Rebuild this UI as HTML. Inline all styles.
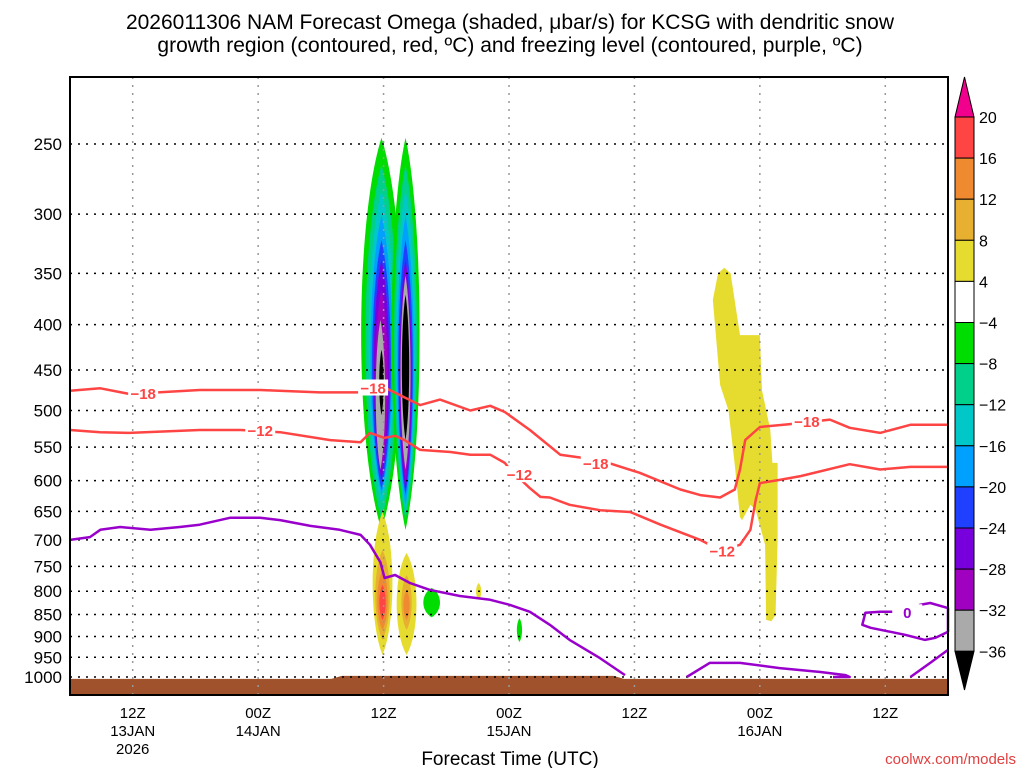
<!DOCTYPE html>
<html><head><meta charset="utf-8"><style>
body{margin:0;background:#fff;}
svg{display:block;font-family:"Liberation Sans",sans-serif;}
</style></head><body>
<svg id="c" width="1024" height="768" xmlns="http://www.w3.org/2000/svg">
<text x="510" y="29" font-size="21" text-anchor="middle">2026011306 NAM Forecast Omega (shaded, μbar/s) for KCSG with dendritic snow</text>
<text x="510" y="52" font-size="21" text-anchor="middle">growth region (contoured, red, ºC) and freezing level (contoured, purple, ºC)</text>
<g id="plot"></g>
<text x="510" y="765" font-size="19" text-anchor="middle">Forecast Time (UTC)</text>
<text x="1016" y="764" font-size="15" fill="#e04040" text-anchor="end">coolwx.com/models</text>
</svg>
<script>
const pLevels=[250,300,350,400,450,500,550,600,650,700,750,800,850,900,950,1000];
const xTickHours=[6,18,30,42,54,66,78];
const xTickLine1=["12Z","00Z","12Z","00Z","12Z","00Z","12Z"];
const xTickLine2=["13JAN","14JAN","","15JAN","","16JAN",""];
const xTickLine3=["2026","","","","","",""];
const cbLabels=["20","16","12","8","4","−4","−8","−12","−16","−20","−24","−28","−32","−36"];
const cbColors=["#ff4444","#f08a30","#e8b030","#e6dc30","#ffffff","#00dd00","#00d08a","#00c8c8","#00a0ff","#2040ff","#7800dc","#a000c0","#aaaaaa"];
// plume lenses: [hourCenter, halfWidthHours, pTop, pBottom, colorIndex]
const plumeA=[[29.8,1.95,246,682,5],[29.8,1.55,264,665,6],[29.8,1.25,282,639,7],[29.8,1.05,301,623,8],[29.8,0.9,321,614,9],[29.8,0.75,338,599,10],[29.8,0.6,365,583,11],[29.7,0.45,395,583,12],[29.8,0.22,427,506,13]];
const plumeB=[[32.1,1.35,246,682,5],[32.1,1.1,264,665,6],[32.1,0.95,282,651,7],[32.1,0.8,301,639,8],[32.1,0.7,321,623,9],[32.1,0.6,338,614,10],[32.1,0.5,352,599,11],[32.1,0.48,352,583,12],[32.1,0.35,370,540,13]];
const lowBlobs=[[29.9,0.95,651,944,3],[29.9,0.7,719,908,2],[29.9,0.5,757,885,1],[29.9,0.3,787,862,0],[32.2,0.95,724,944,3],[32.2,0.5,767,885,2],[32.2,0.3,798,862,1],[34.6,0.8,793,856,5],[39.1,0.25,783,818,3],[43.0,0.25,858,913,5]];
const yellowH=[61.5,62.0,62.6,63.2,64.1,66.0,66.2,67.0,67.2,67.7,67.7,67.5,67.1,66.6,66.5,65.6,65.1,64.3,64.1,63.6,63.0,62.2,61.5];
const yellowP=[375,350,345,350,411,411,474,526,573,573,700,851,865,862,709,648,639,665,660,576,500,468,375];
const red18H=[0,2.9,5.7,12.4,18.2,23.9,27.8,30.1,33.5,35.4,38.3,40.2,41.6,44.0,46.9,50.7,54.5,58.4,60.3,62.2,63.6,64.1,64.6,66.0,68.9,72.7,74.6,77.5,80.4,84];
const red18P=[475,472,479,474,474,477,477,471,493,486,500,494,502,526,561,569,588,614,623,627,614,583,540,522,518,512,523,530,519,519];
const red12H=[0,2.9,5.7,12.4,16.3,20.1,24.9,27.8,28.7,30.1,31.1,32,33.5,36.4,38.3,40.2,41.6,42.1,44,45,45.9,47.8,50.7,53.6,56.5,60.3,62.2,64.1,65.1,65.6,66,67.9,69.9,74.6,77.5,80.4,84];
const red12P=[526,529,530,526,526,529,540,543,530,537,534,540,554,557,561,561,573,583,612,626,627,639,648,651,673,700,719,709,682,631,604,599,593,575,583,579,579];
const purpH=[0,1.9,2.9,4.8,7.7,10.5,12.4,15.3,18.2,20.1,23,25.8,27.8,28.7,29.7,30.1,31.1,32.5,34.4,37.3,40.2,42.1,44,45.9,47.8,50.7,53.1];
const purpP=[700,695,682,677,682,677,673,661,661,665,675,682,691,709,742,773,767,783,797,810,818,829,844,873,908,952,995];
const purp2H=[59.0,61.2,64.1,67.9,71.8,74.2,74.6,73.0];
const purp2P=[1000,964,964,977,987,995,1000,1000];
const purp3H=[84,82.3,81.3,80.9,79.4,77.5,76.1,75.8,76.6,79.9,81.8,82.8,84];
const purp3P=[836,825,829,844,844,844,846,873,880,896,908,903,889];
const purp4H=[80.4,82.3,84];
const purp4P=[1000,964,932];
const labelText=["−18","−12","−18","−12","−18","−12","−18","0"];
const labelH=[7.0,18.2,29.0,43.0,50.3,62.4,70.5,80.1];
const labelP=[478,526,471,590,573,720,514,845];
const labelColor=["r","r","r","r","r","r","r","p"];
const groundH=[0,25,26,52,53,84];
const groundP=[1005,1005,997,997,1005,1005];

const L=70,R=948,T=77,B=695;
const X=h=>L+h*(R-L)/84;
const Y=p=>677-384.5*Math.log(1000/p);
const NS="http://www.w3.org/2000/svg";
const g=document.getElementById('plot');
function mk(t,a,par){const e=document.createElementNS(NS,t);for(const k in a)e.setAttribute(k,a[k]);(par||g).appendChild(e);return e;}
const allColors=cbColors.concat(["#000000"]);
let gd=`M${L},${B}`;groundH.forEach((h,i)=>gd+=`L${X(h)},${Y(groundP[i])}`);gd+=`L${R},${B}Z`;
const gr=mk('path',{d:gd,fill:'#a0522d'});


function lens(arr,name){arr.forEach(b=>{const y1=Y(b[2]),y2=Y(b[3]),cx=X(b[0]),rx=b[1]*(R-L)/84*1.33,hh=y2-y1;
 const d=`M${cx},${y1}C${cx+rx},${y1+hh*0.22} ${cx+rx},${y2-hh*0.22} ${cx},${y2}C${cx-rx},${y2-hh*0.22} ${cx-rx},${y1+hh*0.22} ${cx},${y1}Z`;
 const e=mk('path',{d:d,fill:allColors[b[4]]});
 
 });}
lens(plumeA,'omega-plume-a');lens(plumeB,'omega-plume-b');lens(lowBlobs,'omega-low-blob');
let yd='';yellowH.forEach((h,i)=>yd+=(i?'L':'M')+X(h)+','+Y(yellowP[i]));
const yp=mk('path',{d:yd+'Z',fill:'#e6dc30'});


pLevels.forEach(p=>{const l=mk('line',{x1:L,x2:R,y1:Y(p),y2:Y(p),stroke:'#000','stroke-width':1.5,'stroke-dasharray':'2,6'});
 
 
 const t=mk('text',{x:62,y:Y(p)+6,'font-size':17,'text-anchor':'end'});t.textContent=p;
 
 });
xTickHours.forEach((h,i)=>{const l=mk('line',{x1:X(h),x2:X(h),y1:T,y2:B,stroke:'#999','stroke-width':1.5,'stroke-dasharray':'2,6'});
 
 
 [xTickLine1[i],xTickLine2[i],xTickLine3[i]].forEach((s,j)=>{if(!s)return;const t=mk('text',{x:X(h),y:718+j*18,'font-size':15,'text-anchor':'middle'});t.textContent=s;
 
 });});
function line(hs,ps,col,name,close){let d='';hs.forEach((h,i)=>d+=(i?'L':'M')+X(h).toFixed(1)+','+Y(ps[i]).toFixed(1));if(close)d+='Z';
 const e=mk('path',{d:d,fill:'none',stroke:col,'stroke-width':2.5,'stroke-linejoin':'round'});
 
 }
line(red18H,red18P,'#ff4444','contour-minus18');line(red12H,red12P,'#ff4444','contour-minus12');
line(purpH,purpP,'#9900cc','freezing-level');line(purp2H,purp2P,'#9900cc','freezing-level-2');
line(purp3H,purp3P,'#9900cc','freezing-level-3',true);line(purp4H,purp4P,'#9900cc','freezing-level-4');
labelText.forEach((s,i)=>{const x=X(labelH[i]),y=Y(labelP[i]);
 const r=mk('rect',{x:x-15,y:y-8,width:30,height:16,fill:'#fff'});
 
 
 const t=mk('text',{x:x,y:y+6,'font-size':15,'font-weight':'bold','text-anchor':'middle',fill:labelColor[i]=='r'?'#ff4444':'#9900cc'});t.textContent=s;
 
 });
const fr=mk('rect',{x:L,y:T,width:R-L,height:B-T,fill:'none',stroke:'#000','stroke-width':2});


const cx=955,cw=19,ct=117,ch=41.1;
const tt=mk('path',{d:`M${cx},${ct}L${cx+cw/2},77L${cx+cw},${ct}Z`,fill:'#f0008c',stroke:'#000'});


cbColors.forEach((c,i)=>{const r=mk('rect',{x:cx,y:ct+i*ch,width:cw,height:ch,fill:c,stroke:'#000'});
 
 });
const bt=ct+13*ch;
const ba=mk('path',{d:`M${cx},${bt}L${cx+cw/2},690L${cx+cw},${bt}Z`,fill:'#000',stroke:'#000'});


cbLabels.forEach((s,i)=>{const t=mk('text',{x:979,y:ct+i*ch+6,'font-size':16});t.textContent=s;
 
 });
</script>
</body></html>
